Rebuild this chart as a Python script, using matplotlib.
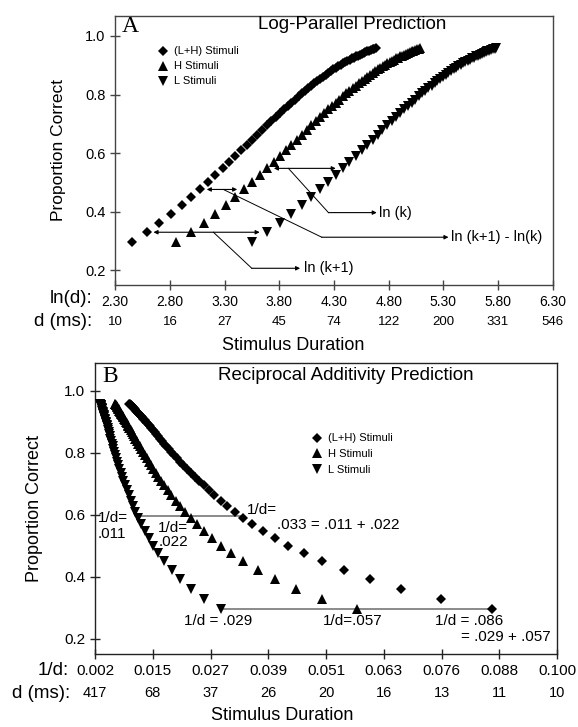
import numpy as np
import matplotlib
matplotlib.use("Agg")
import matplotlib.pyplot as plt
from matplotlib.transforms import blended_transform_factory

plt.rcParams['font.family'] = ['Liberation Sans', 'DejaVu Sans']

# ---------------- data ----------------
# stimulus durations (ms) of the three stimulus types, point by point
dur_L_ms = [34.8, 39.8, 44.8, 49.8, 54.8, 59.8, 64.8, 69.8, 74.8, 79.8,
            84.8, 89.8, 94.8, 99.8, 104.8, 109.8, 114.8, 119.8, 124.8, 129.8,
            134.8, 139.8, 144.8, 149.8, 154.8, 159.8, 164.8, 169.8, 174.8, 179.8,
            184.8, 189.8, 194.8, 199.8, 204.8, 209.8, 214.8, 219.8, 224.8, 229.8,
            234.8, 239.8, 244.8, 249.8, 254.8, 259.8, 264.8, 269.8, 274.8, 279.8,
            284.8, 289.8, 294.8, 299.8, 304.8, 309.8, 314.8, 319.8, 324.8]
dur_H_ms = [17.4, 19.9, 22.4, 24.9, 27.4, 29.9, 32.4, 34.9, 37.4, 39.9,
            42.4, 44.9, 47.4, 49.9, 52.4, 54.9, 57.4, 59.9, 62.4, 64.9,
            67.4, 69.9, 72.4, 74.9, 77.4, 79.9, 82.4, 84.9, 87.4, 89.9,
            92.4, 94.9, 97.4, 99.9, 102.4, 104.9, 107.4, 109.9, 112.4, 114.9,
            117.4, 119.9, 122.4, 124.9, 127.4, 129.9, 132.4, 134.9, 137.4, 139.9,
            142.4, 144.9, 147.4, 149.9, 152.4, 154.9, 157.4, 159.9, 162.4]
dur_LH_ms = [11.6, 13.27, 14.93, 16.6, 18.27, 19.93, 21.6, 23.27, 24.93, 26.6,
             28.27, 29.93, 31.6, 33.27, 34.93, 36.6, 38.27, 39.93, 41.6, 43.27,
             44.93, 46.6, 48.27, 49.93, 51.6, 53.27, 54.93, 56.6, 58.27, 59.93,
             61.6, 63.27, 64.93, 66.6, 68.27, 69.93, 71.6, 73.27, 74.93, 76.6,
             78.27, 79.93, 81.6, 83.27, 84.93, 86.6, 88.27, 89.93, 91.6, 93.27,
             94.93, 96.6, 98.27, 99.93, 101.6, 103.27, 104.93, 106.6, 108.27]
# proportion correct (same sequence of values for each stimulus type)
prop_correct = [0.296, 0.330, 0.362, 0.393, 0.422, 0.450, 0.476, 0.501, 0.525, 0.548,
                0.569, 0.590, 0.610, 0.628, 0.646, 0.663, 0.679, 0.695, 0.709, 0.723,
                0.736, 0.749, 0.761, 0.772, 0.783, 0.794, 0.804, 0.813, 0.822, 0.830,
                0.839, 0.846, 0.854, 0.861, 0.867, 0.874, 0.880, 0.886, 0.891, 0.896,
                0.901, 0.906, 0.910, 0.915, 0.919, 0.923, 0.926, 0.930, 0.933, 0.936,
                0.940, 0.942, 0.945, 0.948, 0.950, 0.953, 0.955, 0.957, 0.959]

series_labels = ['(L+H) Stimuli', 'H Stimuli', 'L Stimuli']
series_durations = [dur_LH_ms, dur_H_ms, dur_L_ms]
series_markers = ['D', '^', 'v']
series_sizes = [5.2, 6.8, 6.8]

y_ticks = [0.2, 0.4, 0.6, 0.8, 1.0]
y_tick_labels = ['0.2', '0.4', '0.6', '0.8', '1.0']

lnd_ticks = [2.30, 2.80, 3.30, 3.80, 4.30, 4.80, 5.30, 5.80, 6.30]
lnd_tick_labels = ['2.30', '2.80', '3.30', '3.80', '4.30', '4.80', '5.30', '5.80', '6.30']
lnd_ms_labels = ['10', '16', '27', '45', '74', '122', '200', '331', '546']

recip_ticks = [0.002, 0.01425, 0.0265, 0.03875, 0.051, 0.06325, 0.0755, 0.08775, 0.100]
recip_tick_labels = ['0.002', '0.015', '0.027', '0.039', '0.051', '0.063', '0.076', '0.088', '0.100']
recip_ms_labels = ['417', '68', '37', '26', '20', '16', '13', '11', '10']

# ---------------- figure ----------------
fig = plt.figure(figsize=(5.78, 7.27), dpi=100)
axA = fig.add_axes([0.1995, 0.608, 0.7568, 0.370])
axB = fig.add_axes([0.1644, 0.1004, 0.7993, 0.4003])

p = np.array(prop_correct)


def style_axes(ax, spine_color, xlabelsize, ylabelsize):
    for s in ax.spines.values():
        s.set_color(spine_color)
        s.set_linewidth(1.0)
    ax.tick_params(direction='inout', length=7, width=1.0, color=spine_color,
                   top=False, right=False)
    ax.tick_params(axis='x', labelsize=xlabelsize)
    ax.tick_params(axis='y', labelsize=ylabelsize)
    ax.set_yticks(y_ticks)
    ax.set_yticklabels(y_tick_labels)


# ---------- Panel A ----------
for dur, lab, mk, ms in zip(series_durations, series_labels, series_markers, series_sizes):
    axA.plot(np.log(dur), p, ls='none', marker=mk, ms=ms, mew=0, color='black', label=lab)

axA.set_xlim(2.3, 6.3)
axA.set_ylim(0.15, 1.068)
style_axes(axA, '#444444', 10, 10.5)
axA.set_xticks(lnd_ticks)
axA.set_xticklabels(lnd_tick_labels)

txA = blended_transform_factory(axA.transData, axA.transAxes)
for x, lab in zip(lnd_ticks, lnd_ms_labels):
    axA.text(x, -0.1375, lab, transform=txA, ha='center', va='center', fontsize=9.5)
axA.text(-0.052, -0.052, 'ln(d):', transform=axA.transAxes, ha='right', va='center', fontsize=13.5)
axA.text(-0.052, -0.1375, 'd (ms):', transform=axA.transAxes, ha='right', va='center', fontsize=13.5)
axA.text(0.406, -0.225, 'Stimulus Duration', transform=axA.transAxes, ha='center', va='center', fontsize=13)
axA.text(-0.131, 0.5, 'Proportion Correct', transform=axA.transAxes, rotation=90,
         ha='center', va='center', fontsize=12.5)
axA.text(4.463, 1.040, 'Log-Parallel Prediction', ha='center', va='center', fontsize=13.5)
axA.text(0.034, 0.962, 'A', transform=axA.transAxes, ha='center', va='center',
         fontsize=17, family='Liberation Serif')

axA.legend(loc='upper left', bbox_to_anchor=(0.097, 0.887), frameon=False, fontsize=8,
           handlelength=1.0, handletextpad=0.5, borderpad=0, borderaxespad=0,
           labelspacing=0.45)

lnLH = np.log(dur_LH_ms)
lnH = np.log(dur_H_ms)
lnL = np.log(dur_L_ms)
dbl = dict(arrowstyle='<|-|>', color='black', lw=0.8, shrinkA=5, shrinkB=5, mutation_scale=6)
one = dict(arrowstyle='-|>', color='black', lw=0.8, shrinkA=0, shrinkB=0, mutation_scale=6)

# ln(k+1): between (L+H) and L
axA.annotate('', xy=(lnL[1], p[1]), xytext=(lnLH[1], p[1]), arrowprops=dbl)
axA.plot([3.197, 3.548], [p[1], 0.207], color='black', lw=0.7)
axA.annotate('', xy=(3.99, 0.207), xytext=(3.548, 0.207), arrowprops=one)
axA.text(4.03, 0.207, 'ln (k+1)', ha='left', va='center', fontsize=10.5)

# ln(k+1) - ln(k): between (L+H) and H
axA.annotate('', xy=(lnH[6], p[6]), xytext=(lnLH[6], p[6]), arrowprops=dbl)
axA.plot([3.288, 4.188], [p[6], 0.313], color='black', lw=0.7)
axA.annotate('', xy=(5.347, 0.313), xytext=(4.188, 0.313), arrowprops=one)
axA.text(5.37, 0.313, 'ln (k+1) - ln(k)', ha='left', va='center', fontsize=10.5)

# ln(k): between H and L
axA.annotate('', xy=(lnL[9], p[9]), xytext=(lnH[9], p[9]), arrowprops=dbl)
axA.plot([3.883, 4.249], [p[9], 0.397], color='black', lw=0.7)
axA.annotate('', xy=(4.691, 0.397), xytext=(4.249, 0.397), arrowprops=one)
axA.text(4.715, 0.397, 'ln (k)', ha='left', va='center', fontsize=10.5)

# ---------- Panel B ----------
for dur, lab, mk, ms in zip(series_durations, series_labels, series_markers, series_sizes):
    axB.plot(1.0 / np.array(dur), p, ls='none', marker=mk, ms=ms, mew=0, color='black',
             label=lab, zorder=3)

axB.set_xlim(0.002, 0.100)
axB.set_ylim(0.151, 1.09)
style_axes(axB, '#222222', 11, 11)
axB.set_xticks(recip_ticks)
axB.set_xticklabels(recip_tick_labels)

txB = blended_transform_factory(axB.transData, axB.transAxes)
for x, lab in zip(recip_ticks, recip_ms_labels):
    axB.text(x, -0.134, lab, transform=txB, ha='center', va='center', fontsize=10.5)
axB.text(-0.0576, -0.055, '1/d:', transform=axB.transAxes, ha='right', va='center', fontsize=13.5)
axB.text(-0.0535, -0.134, 'd (ms):', transform=axB.transAxes, ha='right', va='center', fontsize=13.5)
axB.text(0.406, -0.2096, 'Stimulus Duration', transform=axB.transAxes, ha='center', va='center', fontsize=13)
axB.text(-0.13, 0.5, 'Proportion Correct', transform=axB.transAxes, rotation=90,
         ha='center', va='center', fontsize=13)
axB.text(0.0551, 1.051, 'Reciprocal Additivity Prediction', ha='center', va='center', fontsize=13.5)
axB.text(0.032, 0.952, 'B', transform=axB.transAxes, ha='center', va='center',
         fontsize=17, family='Liberation Serif')

axB.legend(loc='upper left', bbox_to_anchor=(0.468, 0.758), frameon=False, fontsize=8,
           handlelength=1.0, handletextpad=0.5, borderpad=0, borderaxespad=0,
           labelspacing=0.5)

rL = 1.0 / np.array(dur_L_ms)
rH = 1.0 / np.array(dur_H_ms)
rLH = 1.0 / np.array(dur_LH_ms)
axB.plot([0.011, 0.033], [0.597, 0.597], color='#777777', lw=1.2, zorder=2)
axB.plot([rL[0], rLH[0]], [p[0], p[0]], color='#777777', lw=1.2, zorder=2)

fsB = 11
axB.text(0.0027, 0.589, '1/d=', ha='left', va='center', fontsize=fsB)
axB.text(0.0025, 0.5375, '.011', ha='left', va='center', fontsize=fsB)
axB.text(0.0154, 0.559, '1/d=', ha='left', va='center', fontsize=fsB)
axB.text(0.0154, 0.513, '.022', ha='left', va='center', fontsize=fsB)
axB.text(0.0342, 0.617, '1/d=', ha='left', va='center', fontsize=fsB)
axB.text(0.0405, 0.566, '.033 = .011 + .022', ha='left', va='center', fontsize=fsB)
axB.text(0.0281, 0.256, '1/d = .029', ha='center', va='center', fontsize=fsB)
axB.text(0.0567, 0.256, '1/d=.057', ha='center', va='center', fontsize=fsB)
axB.text(0.0813, 0.256, '1/d = .086', ha='center', va='center', fontsize=fsB)
axB.text(0.0987, 0.207, '= .029 + .057', ha='right', va='center', fontsize=fsB)

fig.savefig('out.png', dpi=100)
